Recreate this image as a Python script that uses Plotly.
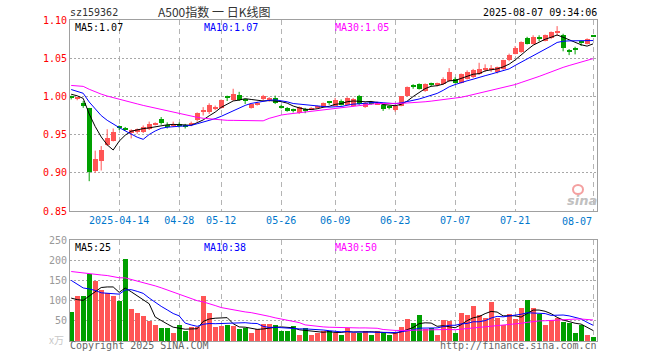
import plotly.graph_objects as go
import pandas as pd

# ---------------- data ----------------
holidays = ["2025-04-04", "2025-05-01", "2025-05-02", "2025-05-05", "2025-06-02"]
dates = [d for d in pd.bdate_range("2025-04-01", "2025-08-07").strftime("%Y-%m-%d") if d not in holidays]

open_ = [0.999, 0.997, 0.992, 0.985, 0.903, 0.915, 0.937, 0.942, 0.960, 0.958,
         0.952, 0.953, 0.954, 0.957, 0.963, 0.970, 0.962, 0.962, 0.963, 0.962,
         0.963, 0.969, 0.980, 0.979, 0.984, 0.985, 0.999, 0.995, 1.002, 0.995,
         0.985, 0.990, 0.996, 0.995, 0.998, 0.987, 0.985, 0.982, 0.978, 0.984,
         0.983, 0.985, 0.986, 0.993, 0.988, 0.994, 0.989, 0.988, 1.001, 0.986,
         0.992, 0.990, 0.989, 0.987, 0.982, 0.988, 1.001, 1.014, 1.016, 1.007,
         1.016, 1.015, 1.016, 1.020, 1.023, 1.018, 1.023, 1.025, 1.029, 1.035,
         1.035, 1.032, 1.036, 1.048, 1.056, 1.058, 1.076, 1.069, 1.077, 1.073,
         1.076, 1.083, 1.081, 1.060, 1.063, 1.071, 1.069, 1.0785]
high = [1.001, 0.999, 0.994, 0.985, 0.929, 0.935, 0.957, 0.958, 0.962, 0.960,
        0.957, 0.958, 0.962, 0.967, 0.966, 0.973, 0.966, 0.967, 0.966, 0.964,
        0.967, 0.979, 0.986, 0.991, 0.988, 0.996, 1.001, 1.010, 1.006, 0.997,
        0.991, 0.993, 1.002, 0.999, 1.001, 0.989, 0.986, 0.984, 0.987, 0.985,
        0.986, 0.988, 0.992, 0.994, 0.998, 0.996, 0.999, 0.998, 1.002, 0.993,
        0.994, 0.993, 0.990, 0.988, 0.989, 1.000, 1.013, 1.016, 1.017, 1.017,
        1.018, 1.018, 1.025, 1.037, 1.025, 1.030, 1.034, 1.036, 1.044, 1.042,
        1.041, 1.039, 1.048, 1.056, 1.066, 1.072, 1.078, 1.080, 1.080, 1.081,
        1.085, 1.092, 1.082, 1.062, 1.065, 1.073, 1.076, 1.079]
low = [0.996, 0.995, 0.985, 0.889, 0.900, 0.903, 0.935, 0.941, 0.956, 0.955,
       0.945, 0.951, 0.952, 0.956, 0.962, 0.963, 0.958, 0.960, 0.959, 0.958,
       0.961, 0.967, 0.975, 0.977, 0.982, 0.984, 0.994, 0.994, 0.994, 0.990,
       0.984, 0.988, 0.994, 0.993, 0.990, 0.984, 0.980, 0.979, 0.977, 0.978,
       0.982, 0.984, 0.985, 0.989, 0.987, 0.988, 0.988, 0.987, 0.989, 0.985,
       0.989, 0.989, 0.981, 0.983, 0.980, 0.987, 1.000, 1.010, 1.009, 1.006,
       1.013, 1.013, 1.015, 1.019, 1.017, 1.017, 1.022, 1.024, 1.028, 1.032,
       1.032, 1.030, 1.035, 1.046, 1.055, 1.057, 1.068, 1.068, 1.072, 1.072,
       1.075, 1.079, 1.059, 1.054, 1.055, 1.066, 1.068, 1.078]
close = [0.998, 0.998, 0.988, 0.901, 0.918, 0.930, 0.946, 0.954, 0.959, 0.957,
         0.956, 0.957, 0.960, 0.964, 0.964, 0.965, 0.961, 0.963, 0.962, 0.961,
         0.964, 0.978, 0.981, 0.989, 0.985, 0.995, 0.998, 1.003, 0.995, 0.994,
         0.990, 0.991, 1.000, 0.998, 0.991, 0.986, 0.981, 0.981, 0.986, 0.982,
         0.984, 0.986, 0.991, 0.992, 0.995, 0.989, 0.998, 0.996, 0.990, 0.992,
         0.991, 0.991, 0.983, 0.986, 0.988, 1.000, 1.012, 1.013, 1.010, 1.016,
         1.015, 1.016, 1.023, 1.032, 1.018, 1.029, 1.032, 1.034, 1.036, 1.036,
         1.036, 1.038, 1.047, 1.054, 1.063, 1.071, 1.069, 1.078, 1.076, 1.080,
         1.084, 1.084, 1.063, 1.059, 1.062, 1.070, 1.075, 1.078]
volume = [71, 111, 111, 165, 149, 126, 118, 111, 98, 203,
          79, 69, 61, 49, 39, 31, 31, 21, 39, 24,
          34, 34, 111, 69, 34, 36, 39, 36, 29, 31,
          19, 29, 41, 41, 39, 24, 24, 36, 16, 31,
          14, 21, 26, 24, 21, 14, 31, 21, 21, 26,
          16, 26, 19, 16, 19, 34, 54, 44, 64, 29,
          31, 14, 51, 49, 19, 69, 64, 86, 64, 56,
          96, 56, 39, 66, 54, 81, 101, 81, 66, 39,
          51, 56, 48, 45, 20, 40, 16, 9]

# estimated sessions before the window (moving-average warm-up only)
prior_close = [1.010, 1.012, 1.015, 1.018, 1.020, 1.022, 1.021, 1.019, 1.017, 1.016,
               1.018, 1.020, 1.019, 1.017, 1.015, 1.014, 1.016, 1.018, 1.017, 1.016,
               1.018, 1.017, 1.015, 1.014, 1.012, 1.008, 1.005, 1.003, 1.000]
prior_volume = [170, 185, 190, 200, 175, 160, 180, 195, 210, 190,
                170, 165, 185, 180, 175, 190, 200, 185, 180, 175,
                210, 200, 190, 185, 185, 130, 120, 110, 100]

tick_dates = ["2025-04-14", "2025-04-28", "2025-05-12", "2025-05-26", "2025-06-09",
              "2025-06-23", "2025-07-07", "2025-07-21", "2025-08-07"]
tick_labels = ["2025-04-14", "04-28", "05-12", "05-26", "06-09", "06-23", "07-07", "07-21", "08-07"]
price_ticks = [0.85, 0.90, 0.95, 1.00, 1.05, 1.10]
vol_ticks = [50, 100, 150, 200, 250]

price_ma_labels = ["MA5:1.07", "MA10:1.07", "MA30:1.05"]
vol_ma_labels = ["MA5:25", "MA10:38", "MA30:50"]

# ---------------- derived ----------------
n = len(close)
idx = list(range(n))
tick_idx = [dates.index(d) for d in tick_dates]

RED = "#ff5555"
GREEN = "#00a000"
MA_COLORS = ["#000000", "#0000ff", "#ff00ff"]
MONO = "DejaVu Sans Mono"
XBLUE = "#0077cc"

up = [c >= o for o, c in zip(open_, close)]
colors = [RED if u else GREEN for u in up]

cs = pd.Series(prior_close + close)
vs = pd.Series(prior_volume + volume)
np_ = len(prior_close)
price_ma = [cs.rolling(w, min_periods=1).mean().tolist()[np_:] for w in (5, 10, 30)]
vol_ma = [vs.rolling(w, min_periods=1).mean().tolist()[np_:] for w in (5, 10, 30)]

MINH = 0.0013
body_base = [min(o, c) for o, c in zip(open_, close)]
body_h = [max(abs(c - o), MINH) for o, c in zip(open_, close)]

fig = go.Figure()

# wicks
for col, flag in ((RED, True), (GREEN, False)):
    wx, wy = [], []
    for i in idx:
        if up[i] == flag:
            wx += [i, i, None]
            wy += [low[i], high[i], None]
    fig.add_trace(go.Scatter(x=wx, y=wy, mode="lines", line=dict(color=col, width=1),
                             xaxis="x", yaxis="y", hoverinfo="skip"))

# bodies
fig.add_trace(go.Bar(x=idx, y=body_h, base=body_base, width=0.8,
                     marker=dict(color=colors, line=dict(width=0)),
                     xaxis="x", yaxis="y"))

for ma, col in zip(price_ma, MA_COLORS):
    fig.add_trace(go.Scatter(x=idx, y=ma, mode="lines", line=dict(color=col, width=1),
                             xaxis="x", yaxis="y"))

# volume
fig.add_trace(go.Bar(x=idx, y=volume, width=0.82,
                     marker=dict(color=colors, line=dict(width=0)),
                     xaxis="x2", yaxis="y2"))
for ma, col in zip(vol_ma, MA_COLORS):
    fig.add_trace(go.Scatter(x=idx, y=ma, mode="lines", line=dict(color=col, width=1),
                             xaxis="x2", yaxis="y2"))

# ---------------- layout ----------------
L, R, T, B = 70, 597, 20, 341
W, H = R - L, B - T
def px(x):
    return (x - L) / W
def py(y):
    return (B - y) / H

main_bottom = py(211)
vol_top = py(240)

BORDER = "#a0a0a0"
GRID = "#b4b4b4"
XR = [-0.2, 87.65]

common_x = dict(range=XR, showgrid=True, gridcolor=GRID, griddash="5px,4px", gridwidth=1,
                showline=True, mirror=True, linecolor=BORDER, linewidth=1, zeroline=False,
                tickmode="array", tickvals=tick_idx, ticks="", fixedrange=True)

# the last date label sits left of its grid line (kept inside the plot)
shown_labels = tick_labels[:-1] + [""]

fig.update_layout(
    width=660, height=360,
    margin=dict(l=L, r=660 - R, t=T, b=360 - B),
    paper_bgcolor="white", plot_bgcolor="white",
    showlegend=False, barmode="overlay", bargap=0,
    xaxis=dict(domain=[0, 1], anchor="y", ticktext=shown_labels,
               tickfont=dict(family=MONO, size=10, color=XBLUE), **common_x),
    yaxis=dict(domain=[main_bottom, 1], anchor="x", range=[0.85, 1.10],
               tickmode="array", tickvals=price_ticks, ticktext=["%.2f" % v for v in price_ticks],
               tickfont=dict(family=MONO, size=10, color="#ff0000"),
               showgrid=True, gridcolor="#a8a8a8", griddash="2px,2px",
               showline=True, mirror=True, linecolor=BORDER, linewidth=1, zeroline=False, ticks=""),
    xaxis2=dict(domain=[0, 1], anchor="y2", showticklabels=False, **common_x),
    yaxis2=dict(domain=[0, vol_top], anchor="x2", range=[0, 250],
                tickmode="array", tickvals=vol_ticks, ticktext=[str(v) for v in vol_ticks],
                tickfont=dict(family=MONO, size=10, color="#999999"),
                showgrid=True, gridcolor="#a8a8a8", griddash="2px,2px",
                showline=True, mirror=True, linecolor=BORDER, linewidth=1, zeroline=False, ticks=""),
)

ann = []
def text(x, y, s, color="#000", size=10, family=MONO, anchor="left"):
    ann.append(dict(xref="paper", yref="paper", x=px(x), y=py(y), text=s, showarrow=False,
                    xanchor=anchor, yanchor="middle", borderpad=0,
                    font=dict(family=family, size=size, color=color)))

text(69, 12, "sz159362", "#333333")
text(214, 11.5, "A500指数 一 日K线图", "#333333", 12, "Noto Sans CJK SC", "center")
text(598, 12, "2025-08-07 09:34:06", "#000000", anchor="right")
for lab, col, x in zip(price_ma_labels, MA_COLORS, (74, 203, 334)):
    text(x, 27, lab, col)
for lab, col, x in zip(vol_ma_labels, MA_COLORS, (74, 203, 334)):
    text(x, 247, lab, col)
ann.append(dict(xref="x", yref="paper", x=tick_idx[-1], y=py(221), text=tick_labels[-1],
                showarrow=False, xanchor="right", yanchor="middle", borderpad=0,
                font=dict(family=MONO, size=10, color=XBLUE)))
text(56, 339, "x万", "#c8c8c8", 10, "Noto Sans CJK SC", "center")
text(69, 346, "Copyright 2025 SINA.COM", "#666666")
text(598, 346, "http://finance.sina.com.cn", "#666666", anchor="right")
text(582, 200, "<b><i>sina</i></b>", "#c0c0c0", 13, "DejaVu Sans", "center")
fig.update_layout(annotations=ann)
fig.add_shape(type="circle", xref="paper", yref="paper",
              x0=px(573), x1=px(583), y0=py(194), y1=py(185),
              line=dict(color="#f4a0a0", width=2))

fig.write_html("out.html", config={"displayModeBar": False})
